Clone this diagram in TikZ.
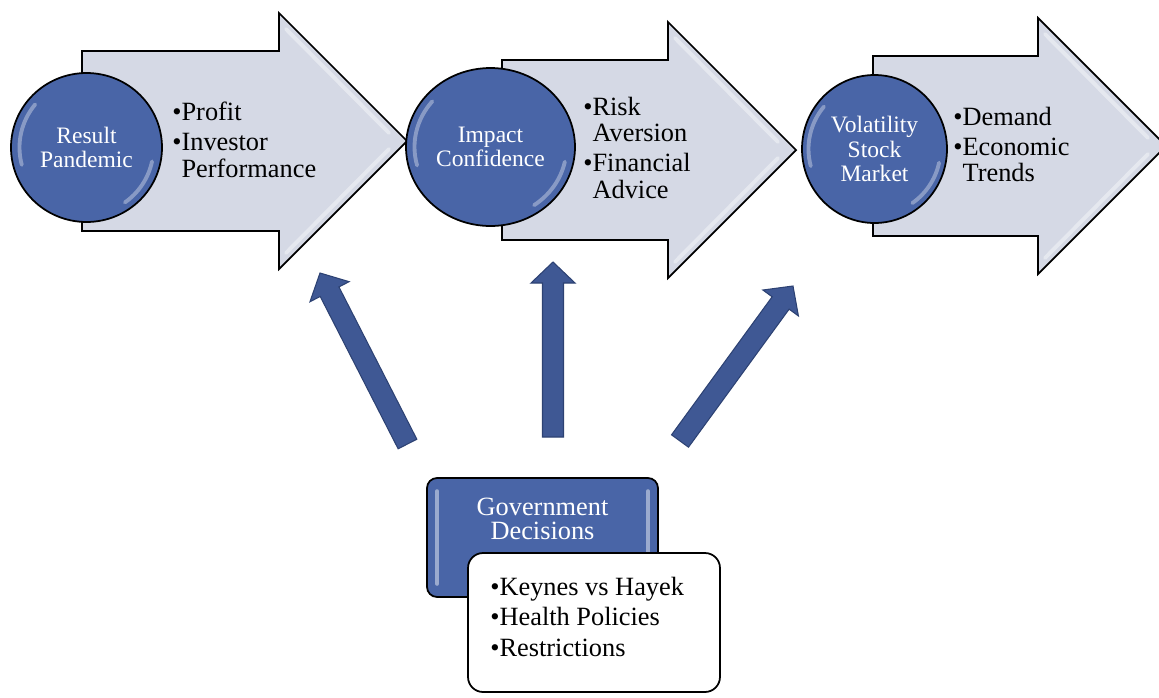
\documentclass[tikz,border=0pt]{standalone}
\usepackage{fontspec}
\setmainfont{Liberation Serif}
\usetikzlibrary{calc,shapes.geometric}
\definecolor{ballblue}{RGB}{73,101,167}
\definecolor{chevgray}{RGB}{213,217,229}
\definecolor{pushblue}{RGB}{63,88,148}
\definecolor{pushedge}{RGB}{45,66,115}
\tikzset{
  chev/.style={draw=black,line width=1pt,fill=chevgray,line join=miter},
  ball/.style={ellipse,draw=black,line width=1pt,fill=ballblue,text=white,align=center,inner sep=0pt,font=\fontsize{13.4}{14}\selectfont},
  gloss/.style={white,line width=2.2pt,opacity=.35,line cap=round},
  points/.style={anchor=base west,inner sep=0pt,font=\fontsize{15}{15}\selectfont},
  push/.style={fill=pushblue,draw=pushedge,line width=.6pt,line join=miter},
  govbox/.style={draw=black,line width=1pt,fill=ballblue,rounded corners=0.2cm,minimum width=4.62cm,minimum height=2.38cm},
  notebox/.style={draw=black,line width=1pt,fill=white,rounded corners=0.3cm,minimum width=5.04cm,minimum height=2.78cm}
}
\newcommand{\itemgap}{2.4pt}
% chevron: left x, head x, middle y (picture pixels, y down)
\newcommand{\chevshape}[3]{%
  \draw[chev] (#1,-#3+90) -- (#2,-#3+90) -- (#2,-#3+128) -- (#2+128,-#3) -- (#2,-#3-128) -- (#2,-#3-90) -- (#1,-#3-90) -- cycle;
  \draw[gloss,opacity=.4] (#2+7,-#3+112) -- (#2+110,-#3+8) (#2+7,-#3-112) -- (#2+110,-#3-8);}
% block arrow from tail to tip
\newcommand{\pusharrow}[2]{%
  \coordinate (hb) at ($(#2)!0.42cm!(#1)$);
  \draw[push] ($(#1)!0.21cm!90:(#2)$) -- ($(hb)!0.21cm!90:(#2)$) -- ($(hb)!0.44cm!90:(#2)$) -- (#2)
    -- ($(hb)!0.44cm!-90:(#2)$) -- ($(hb)!0.21cm!-90:(#2)$) -- ($(#1)!0.21cm!-90:(#2)$) -- cycle;}
\begin{document}
\begin{tikzpicture}[x=0.02cm,y=0.02cm]
    \useasboundingbox (0,0) rectangle (1159,-697);
    \clip (0,0) rectangle (1159,-697);
    % three steps
    \chevshape{82}{279}{141}
    \node[ball,minimum width=3.02cm,minimum height=2.98cm] (c1) at (86.5,-147.5) {Result\\Pandemic};
    \chevshape{502}{668}{150}
    \node[ball,minimum width=3.38cm,minimum height=3.16cm] (c2) at (490.5,-147) {Impact\\Confidence};
    \chevshape{873}{1038}{146}
    \node[ball,minimum width=2.9cm,minimum height=2.96cm] (c3) at (874.5,-149) {Volatility\\Stock\\Market};
    \draw[gloss] ($(c1.center)+(140:67)$) arc[start angle=140,end angle=195,radius=67];
    \draw[gloss] ($(c1.center)+(-12:67)$) arc[start angle=-12,end angle=-55,radius=67];
    \draw[gloss] ($(c2.center)+(140:76 and 71)$) arc[start angle=140,end angle=195,x radius=76,y radius=71];
    \draw[gloss] ($(c2.center)+(-12:76 and 71)$) arc[start angle=-12,end angle=-55,x radius=76,y radius=71];
    \draw[gloss] ($(c3.center)+(140:66)$) arc[start angle=140,end angle=195,radius=66];
    \draw[gloss] ($(c3.center)+(-12:66)$) arc[start angle=-12,end angle=-55,radius=66];
    \node[points] (l1) at (172,-120) {\begin{tabular}[t]{@{}l@{}l@{}}\textbullet&Profit\\[\itemgap]\textbullet&Investor\\&Performance\end{tabular}};
    \node[points] (l2) at (583,-115) {\begin{tabular}[t]{@{}l@{}l@{}}\textbullet&Risk\\&Aversion\\[\itemgap]\textbullet&Financial\\&Advice\end{tabular}};
    \node[points] (l3) at (953,-125) {\begin{tabular}[t]{@{}l@{}l@{}}\textbullet&Demand\\[\itemgap]\textbullet&Economic\\&Trends\end{tabular}};
    % pushes from the government
    \coordinate (tL) at (407.5,-444); \coordinate (hL) at (320,-273);
    \coordinate (tM) at (553,-437); \coordinate (hM) at (553,-262);
    \coordinate (tR) at (680,-441); \coordinate (hR) at (793,-286);
    \pusharrow{tL}{hL}
    \pusharrow{tM}{hM}
    \pusharrow{tR}{hR}
    \node[govbox] (gov) at (542.5,-537.5) {};
    \draw[gloss,opacity=.45] ([shift={(11,-14)}]gov.north west) -- ([shift={(11,14)}]gov.south west);
    \draw[gloss,opacity=.45] ([shift={(-11,-14)}]gov.north east) -- ([shift={(-11,14)}]gov.south east);
    \node[points,anchor=base,text=white] (govtxt) at (542.5,-515) {\fontsize{15}{14.2}\selectfont\begin{tabular}[t]{@{}c@{}}Government\\Decisions\end{tabular}};
    \node[notebox] (notes) at (594,-622.5) {};
    \node[points] (l4) at (490,-595) {\begin{tabular}[t]{@{}l@{}l@{}}\textbullet&Keynes vs Hayek\\[\itemgap]\textbullet&Health Policies\\[\itemgap]\textbullet&Restrictions\end{tabular}};
\end{tikzpicture}
\end{document}
